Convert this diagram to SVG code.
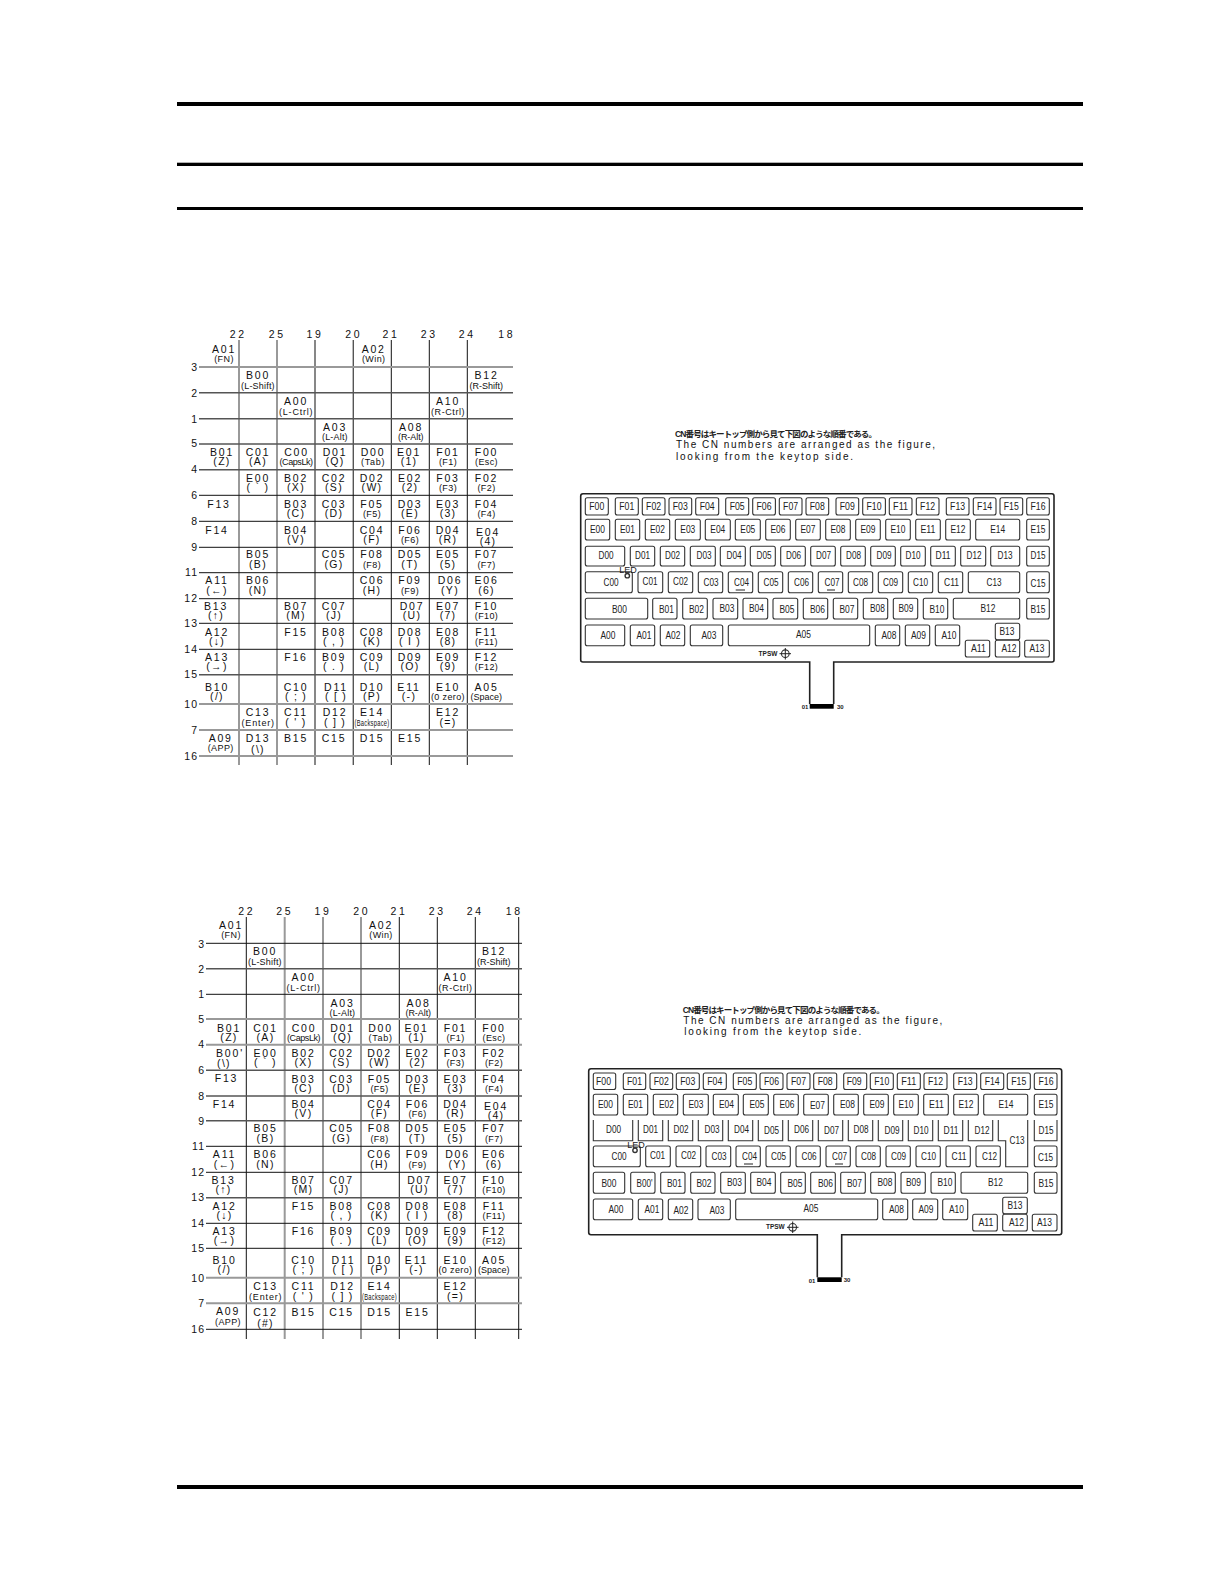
<svg xmlns="http://www.w3.org/2000/svg" width="1224" height="1584" viewBox="0 0 1224 1584">
<style>
text{font-family:"Liberation Sans",Arial,"Noto Sans CJK JP",sans-serif;fill:#111;text-anchor:middle}
.m{font-size:10.5px;letter-spacing:1.8px}
.s{font-size:10.5px;letter-spacing:1.3px}
.f{font-size:9px;letter-spacing:.4px}
.n{font-size:10.5px;letter-spacing:2.6px}
.r{font-size:10.5px;letter-spacing:1px;text-anchor:end}
.cap{font-size:10px;text-anchor:start;fill:#111}
.cj{font-size:8.5px;text-anchor:start;font-weight:bold;fill:#222}
.kb rect,.kb .o{fill:#fff;stroke:#333;stroke-width:1.1}
.kb text{font-size:11.5px;fill:#222}
.kb .t{font-size:6px;font-weight:bold}
.kb .e{font-size:9px}
.kb .frame{fill:none;stroke:#222;stroke-width:1.6}
.g{stroke:#999;stroke-width:2}
.d{stroke:#555;stroke-width:1.4}
.k{stroke:#111;stroke-width:1}
</style>
<rect width="1224" height="1584" fill="#fff"/>
<g id="page-rules" fill="#000">
<rect x="177" y="102" width="906" height="4"/>
<rect x="177" y="162.7" width="906" height="3.3"/>
<rect x="177" y="207" width="906" height="3"/>
<rect x="177" y="1485" width="906" height="4"/>
</g>

<g id="table1-lines">
<path class="g" d="M239 340V765M277 340V765"/>
<path class="d" d="M315 340V765M353.3 340V765"/>
<path class="k" d="M391.3 340V765M429.3 340V765M467.3 340V765"/>
<path class="g" d="M199 367H513M199 704H513M199 730H513M199 756H513"/>
<path class="d" d="M199 392.7H513M199 418.7H513M199 444H513M199 469.7H513M199 674.7H513"/>
<path class="k" d="M199 495.3H513M199 521.3H513M199 547.3H513M199 572.7H513M199 598.7H513M199 623.3H513M199 649.3H513"/>
</g>
<g id="table1-numbers">
<text class="n" x="238.3" y="337.5">22</text><text class="n" x="277.3" y="337.5">25</text><text class="n" x="315" y="337.5">19</text><text class="n" x="353.7" y="337.5">20</text><text class="n" x="391" y="337.5">21</text><text class="n" x="429.3" y="337.5">23</text><text class="n" x="467.3" y="337.5">24</text><text class="n" x="506.7" y="337.5">18</text>
<text class="r" x="198" y="371">3</text><text class="r" x="198" y="397">2</text><text class="r" x="198" y="423">1</text><text class="r" x="198" y="447">5</text><text class="r" x="198" y="473">4</text><text class="r" x="198" y="499">6</text><text class="r" x="198" y="525">8</text><text class="r" x="198" y="551">9</text><text class="r" x="198" y="576">11</text><text class="r" x="198" y="602">12</text><text class="r" x="198" y="627">13</text><text class="r" x="198" y="653">14</text><text class="r" x="198" y="678">15</text><text class="r" x="198" y="708">10</text><text class="r" x="198" y="734">7</text><text class="r" x="198" y="760">16</text>
</g>
<g id="table1-cells">
<text class="m" x="224" y="353">A01</text><text class="f" x="224" y="362">(FN)</text><text class="m" x="373.7" y="353">A02</text><text class="f" x="373.7" y="362">(Win)</text>
<text class="m" x="258" y="379">B00</text><text class="f" x="258" y="389" textLength="34">(L-Shift)</text><text class="m" x="486.5" y="379">B12</text><text class="f" x="486.5" y="389" textLength="34">(R-Shift)</text>
<text class="m" x="296" y="405">A00</text><text class="f" x="296" y="415" textLength="34">(L-Ctrl)</text><text class="m" x="448" y="405">A10</text><text class="f" x="448" y="415" textLength="34">(R-Ctrl)</text>
<text class="m" x="335" y="431">A03</text><text class="f" x="335" y="440" textLength="26">(L-Alt)</text><text class="m" x="411" y="431">A08</text><text class="f" x="411" y="440" textLength="26">(R-Alt)</text>
<text class="m" x="222" y="456">B01</text><text class="s" x="222" y="465">(Z)</text><text class="m" x="258" y="456">C01</text><text class="s" x="258" y="465">(A)</text><text class="m" x="296.5" y="456">C00</text><text class="f" x="296.5" y="465" textLength="34">(CapsLk)</text><text class="m" x="335" y="456">D01</text><text class="s" x="335" y="465">(Q)</text><text class="m" x="373" y="456">D00</text><text class="f" x="373" y="465" textLength="24">(Tab)</text><text class="m" x="409" y="456">E01</text><text class="s" x="409" y="465">(1)</text><text class="m" x="448" y="456">F01</text><text class="f" x="448" y="465">(F1)</text><text class="m" x="486.5" y="456">F00</text><text class="f" x="486.5" y="465">(Esc)</text>
<text class="m" x="258" y="482">E00</text><text class="s" x="258" y="491">( ` )</text><text class="m" x="296" y="482">B02</text><text class="s" x="296" y="491">(X)</text><text class="m" x="334" y="482">C02</text><text class="s" x="334" y="491">(S)</text><text class="m" x="372" y="482">D02</text><text class="s" x="372" y="491">(W)</text><text class="m" x="410" y="482">E02</text><text class="s" x="410" y="491">(2)</text><text class="m" x="448" y="482">F03</text><text class="f" x="448" y="491">(F3)</text><text class="m" x="486.5" y="482">F02</text><text class="f" x="486.5" y="491">(F2)</text>
<text class="m" x="219" y="508">F13</text><text class="m" x="296" y="508">B03</text><text class="s" x="296" y="517">(C)</text><text class="m" x="334" y="508">C03</text><text class="s" x="334" y="517">(D)</text><text class="m" x="372" y="508">F05</text><text class="f" x="372" y="517">(F5)</text><text class="m" x="410" y="508">D03</text><text class="s" x="410" y="517">(E)</text><text class="m" x="448" y="508">E03</text><text class="s" x="448" y="517">(3)</text><text class="m" x="486.5" y="508">F04</text><text class="f" x="486.5" y="517">(F4)</text>
<text class="m" x="217" y="534">F14</text><text class="m" x="296" y="534">B04</text><text class="s" x="296" y="543">(V)</text><text class="m" x="372" y="534">C04</text><text class="s" x="372" y="543">(F)</text><text class="m" x="410" y="534">F06</text><text class="f" x="410" y="543">(F6)</text><text class="m" x="448" y="534">D04</text><text class="s" x="448" y="543">(R)</text><text class="m" x="488" y="536">E04</text><text class="s" x="488" y="545">(4)</text>
<text class="m" x="258" y="558">B05</text><text class="s" x="258" y="568">(B)</text><text class="m" x="334" y="558">C05</text><text class="s" x="334" y="568">(G)</text><text class="m" x="372" y="558">F08</text><text class="f" x="372" y="568">(F8)</text><text class="m" x="410" y="558">D05</text><text class="s" x="410" y="568">(T)</text><text class="m" x="448" y="558">E05</text><text class="s" x="448" y="568">(5)</text><text class="m" x="486.5" y="558">F07</text><text class="f" x="486.5" y="568">(F7)</text>
<text class="m" x="217" y="584">A11</text><text class="s" x="217" y="594">(←)</text><text class="m" x="258" y="584">B06</text><text class="s" x="258" y="594">(N)</text><text class="m" x="372" y="584">C06</text><text class="s" x="372" y="594">(H)</text><text class="m" x="410" y="584">F09</text><text class="f" x="410" y="594">(F9)</text><text class="m" x="450" y="584">D06</text><text class="s" x="450" y="594">(Y)</text><text class="m" x="486.5" y="584">E06</text><text class="s" x="486.5" y="594">(6)</text>
<text class="m" x="216" y="610">B13</text><text class="s" x="216" y="619">(↑)</text><text class="m" x="296" y="610">B07</text><text class="s" x="296" y="619">(M)</text><text class="m" x="334" y="610">C07</text><text class="s" x="334" y="619">(J)</text><text class="m" x="412" y="610">D07</text><text class="s" x="412" y="619">(U)</text><text class="m" x="448" y="610">E07</text><text class="s" x="448" y="619">(7)</text><text class="m" x="486.5" y="610">F10</text><text class="f" x="486.5" y="619">(F10)</text>
<text class="m" x="217" y="636">A12</text><text class="s" x="217" y="645">(↓)</text><text class="m" x="296" y="636">F15</text><text class="m" x="334" y="636">B08</text><text class="s" x="334" y="645">( , )</text><text class="m" x="372" y="636">C08</text><text class="s" x="372" y="645">(K)</text><text class="m" x="410" y="636">D08</text><text class="s" x="410" y="645">( I )</text><text class="m" x="448" y="636">E08</text><text class="s" x="448" y="645">(8)</text><text class="m" x="486.5" y="636">F11</text><text class="f" x="486.5" y="645">(F11)</text>
<text class="m" x="217" y="661">A13</text><text class="s" x="217" y="670">(→)</text><text class="m" x="296" y="661">F16</text><text class="m" x="334" y="661">B09</text><text class="s" x="334" y="670">( . )</text><text class="m" x="372" y="661">C09</text><text class="s" x="372" y="670">(L)</text><text class="m" x="410" y="661">D09</text><text class="s" x="410" y="670">(O)</text><text class="m" x="448" y="661">E09</text><text class="s" x="448" y="670">(9)</text><text class="m" x="486.5" y="661">F12</text><text class="f" x="486.5" y="670">(F12)</text>
<text class="m" x="217" y="691">B10</text><text class="s" x="217" y="700">(/)</text><text class="m" x="296" y="691">C10</text><text class="s" x="296" y="700">( ; )</text><text class="m" x="336" y="691">D11</text><text class="s" x="336" y="700">( [ )</text><text class="m" x="372" y="691">D10</text><text class="s" x="372" y="700">(P)</text><text class="m" x="409" y="691">E11</text><text class="s" x="409" y="700">(-)</text><text class="m" x="448" y="691">E10</text><text class="f" x="448" y="700" textLength="34">(0 zero)</text><text class="m" x="486.5" y="691">A05</text><text class="f" x="486.5" y="700" textLength="32">(Space)</text>
<text class="m" x="258" y="716">C13</text><text class="f" x="258" y="726" textLength="33">(Enter)</text><text class="m" x="296" y="716">C11</text><text class="s" x="296" y="726">( ' )</text><text class="m" x="335" y="716">D12</text><text class="s" x="335" y="726">( ] )</text><text class="m" x="372" y="716">E14</text><text class="f" x="372" y="726" textLength="35" lengthAdjust="spacingAndGlyphs">(Backspace)</text><text class="m" x="448" y="716">E12</text><text class="s" x="448" y="726">(=)</text>
<text class="m" x="220.7" y="742">A09</text><text class="f" x="220.7" y="751">(APP)</text><text class="m" x="258" y="742">D13</text><text class="s" x="258" y="753">(\)</text><text class="m" x="296" y="742">B15</text><text class="m" x="334" y="742">C15</text><text class="m" x="372" y="742">D15</text><text class="m" x="410" y="742">E15</text>
</g>

<g id="table2-lines">
<path class="k" d="M246.3 917V1339"/>
<path class="g" d="M284.7 917V1339M323 917V1339M361 917V1339"/>
<path class="k" d="M399.3 917V1339M437.3 917V1339M475.3 917V1339M518.7 917V1339"/>
<path class="k" d="M206 943.3H522"/>
<path class="d" d="M206 968.7H522"/>
<path class="k" d="M206 994.3H522"/>
<path class="g" d="M206 1019H522M206 1044.7H522M206 1277.7H522M206 1303.3H522"/>
<path class="d" d="M206 1070.3H522M206 1096H522M206 1120.7H522M206 1197.7H522"/>
<path class="k" d="M206 1146.3H522M206 1172.3H522M206 1223.3H522M206 1248.3H522M206 1329.3H522"/>
</g>
<g id="table2-numbers">
<text class="n" x="246.7" y="914.5">22</text><text class="n" x="284.7" y="914.5">25</text><text class="n" x="323" y="914.5">19</text><text class="n" x="361.7" y="914.5">20</text><text class="n" x="399" y="914.5">21</text><text class="n" x="437.3" y="914.5">23</text><text class="n" x="475.3" y="914.5">24</text><text class="n" x="514.3" y="914.5">18</text>
<text class="r" x="205" y="948">3</text><text class="r" x="205" y="973">2</text><text class="r" x="205" y="998">1</text><text class="r" x="205" y="1023">5</text><text class="r" x="205" y="1048">4</text><text class="r" x="205" y="1074">6</text><text class="r" x="205" y="1100">8</text><text class="r" x="205" y="1125">9</text><text class="r" x="205" y="1150">11</text><text class="r" x="205" y="1176">12</text><text class="r" x="205" y="1201">13</text><text class="r" x="205" y="1227">14</text><text class="r" x="205" y="1252">15</text><text class="r" x="205" y="1282">10</text><text class="r" x="205" y="1307">7</text><text class="r" x="205" y="1333">16</text>
</g>
<g id="table2-cells">
<text class="m" x="231" y="929">A01</text><text class="f" x="231" y="938">(FN)</text><text class="m" x="381" y="929">A02</text><text class="f" x="381" y="938">(Win)</text>
<text class="m" x="265" y="955">B00</text><text class="f" x="265" y="965" textLength="34">(L-Shift)</text><text class="m" x="494" y="955">B12</text><text class="f" x="494" y="965" textLength="34">(R-Shift)</text>
<text class="m" x="303.5" y="981">A00</text><text class="f" x="303.5" y="991" textLength="34">(L-Ctrl)</text><text class="m" x="455.5" y="981">A10</text><text class="f" x="455.5" y="991" textLength="34">(R-Ctrl)</text>
<text class="m" x="342.5" y="1007">A03</text><text class="f" x="342.5" y="1016" textLength="26">(L-Alt)</text><text class="m" x="418.5" y="1007">A08</text><text class="f" x="418.5" y="1016" textLength="26">(R-Alt)</text>
<text class="m" x="229" y="1032">B01</text><text class="s" x="229" y="1041">(Z)</text><text class="m" x="265.5" y="1032">C01</text><text class="s" x="265.5" y="1041">(A)</text><text class="m" x="304" y="1032">C00</text><text class="f" x="304" y="1041" textLength="34">(CapsLk)</text><text class="m" x="342.5" y="1032">D01</text><text class="s" x="342.5" y="1041">(Q)</text><text class="m" x="380.5" y="1032">D00</text><text class="f" x="380.5" y="1041" textLength="24">(Tab)</text><text class="m" x="416.5" y="1032">E01</text><text class="s" x="416.5" y="1041">(1)</text><text class="m" x="455.5" y="1032">F01</text><text class="f" x="455.5" y="1041">(F1)</text><text class="m" x="494" y="1032">F00</text><text class="f" x="494" y="1041">(Esc)</text>
<text class="m" x="230" y="1057">B00'</text><text class="s" x="224" y="1067">(\)</text><text class="m" x="265.5" y="1057">E00</text><text class="s" x="265.5" y="1066">( ` )</text><text class="m" x="303.5" y="1057">B02</text><text class="s" x="303.5" y="1066">(X)</text><text class="m" x="341.5" y="1057">C02</text><text class="s" x="341.5" y="1066">(S)</text><text class="m" x="379.5" y="1057">D02</text><text class="s" x="379.5" y="1066">(W)</text><text class="m" x="417.5" y="1057">E02</text><text class="s" x="417.5" y="1066">(2)</text><text class="m" x="455.5" y="1057">F03</text><text class="f" x="455.5" y="1066">(F3)</text><text class="m" x="494" y="1057">F02</text><text class="f" x="494" y="1066">(F2)</text>
<text class="m" x="226.5" y="1082">F13</text><text class="m" x="303.5" y="1083">B03</text><text class="s" x="303.5" y="1092">(C)</text><text class="m" x="341.5" y="1083">C03</text><text class="s" x="341.5" y="1092">(D)</text><text class="m" x="379.5" y="1083">F05</text><text class="f" x="379.5" y="1092">(F5)</text><text class="m" x="417.5" y="1083">D03</text><text class="s" x="417.5" y="1092">(E)</text><text class="m" x="455.5" y="1083">E03</text><text class="s" x="455.5" y="1092">(3)</text><text class="m" x="494" y="1083">F04</text><text class="f" x="494" y="1092">(F4)</text>
<text class="m" x="224.5" y="1108">F14</text><text class="m" x="303.5" y="1108">B04</text><text class="s" x="303.5" y="1117">(V)</text><text class="m" x="379.5" y="1108">C04</text><text class="s" x="379.5" y="1117">(F)</text><text class="m" x="417.5" y="1108">F06</text><text class="f" x="417.5" y="1117">(F6)</text><text class="m" x="455.5" y="1108">D04</text><text class="s" x="455.5" y="1117">(R)</text><text class="m" x="496" y="1110">E04</text><text class="s" x="496" y="1119">(4)</text>
<text class="m" x="265.5" y="1132">B05</text><text class="s" x="265.5" y="1142">(B)</text><text class="m" x="341.5" y="1132">C05</text><text class="s" x="341.5" y="1142">(G)</text><text class="m" x="379.5" y="1132">F08</text><text class="f" x="379.5" y="1142">(F8)</text><text class="m" x="417.5" y="1132">D05</text><text class="s" x="417.5" y="1142">(T)</text><text class="m" x="455.5" y="1132">E05</text><text class="s" x="455.5" y="1142">(5)</text><text class="m" x="494" y="1132">F07</text><text class="f" x="494" y="1142">(F7)</text>
<text class="m" x="224.5" y="1158">A11</text><text class="s" x="224.5" y="1168">(←)</text><text class="m" x="265.5" y="1158">B06</text><text class="s" x="265.5" y="1168">(N)</text><text class="m" x="379.5" y="1158">C06</text><text class="s" x="379.5" y="1168">(H)</text><text class="m" x="417.5" y="1158">F09</text><text class="f" x="417.5" y="1168">(F9)</text><text class="m" x="457.5" y="1158">D06</text><text class="s" x="457.5" y="1168">(Y)</text><text class="m" x="494" y="1158">E06</text><text class="s" x="494" y="1168">(6)</text>
<text class="m" x="223.5" y="1184">B13</text><text class="s" x="223.5" y="1193">(↑)</text><text class="m" x="303.5" y="1184">B07</text><text class="s" x="303.5" y="1193">(M)</text><text class="m" x="341.5" y="1184">C07</text><text class="s" x="341.5" y="1193">(J)</text><text class="m" x="419.5" y="1184">D07</text><text class="s" x="419.5" y="1193">(U)</text><text class="m" x="455.5" y="1184">E07</text><text class="s" x="455.5" y="1193">(7)</text><text class="m" x="494" y="1184">F10</text><text class="f" x="494" y="1193">(F10)</text>
<text class="m" x="224.5" y="1210">A12</text><text class="s" x="224.5" y="1219">(↓)</text><text class="m" x="303.5" y="1210">F15</text><text class="m" x="341.5" y="1210">B08</text><text class="s" x="341.5" y="1219">( , )</text><text class="m" x="379.5" y="1210">C08</text><text class="s" x="379.5" y="1219">(K)</text><text class="m" x="417.5" y="1210">D08</text><text class="s" x="417.5" y="1219">( I )</text><text class="m" x="455.5" y="1210">E08</text><text class="s" x="455.5" y="1219">(8)</text><text class="m" x="494" y="1210">F11</text><text class="f" x="494" y="1219">(F11)</text>
<text class="m" x="224.5" y="1235">A13</text><text class="s" x="224.5" y="1244">(→)</text><text class="m" x="303.5" y="1235">F16</text><text class="m" x="341.5" y="1235">B09</text><text class="s" x="341.5" y="1244">( . )</text><text class="m" x="379.5" y="1235">C09</text><text class="s" x="379.5" y="1244">(L)</text><text class="m" x="417.5" y="1235">D09</text><text class="s" x="417.5" y="1244">(O)</text><text class="m" x="455.5" y="1235">E09</text><text class="s" x="455.5" y="1244">(9)</text><text class="m" x="494" y="1235">F12</text><text class="f" x="494" y="1244">(F12)</text>
<text class="m" x="224.5" y="1264">B10</text><text class="s" x="224.5" y="1273">(/)</text><text class="m" x="303.5" y="1264">C10</text><text class="s" x="303.5" y="1273">( ; )</text><text class="m" x="343.5" y="1264">D11</text><text class="s" x="343.5" y="1273">( [ )</text><text class="m" x="379.5" y="1264">D10</text><text class="s" x="379.5" y="1273">(P)</text><text class="m" x="416.5" y="1264">E11</text><text class="s" x="416.5" y="1273">(-)</text><text class="m" x="455.5" y="1264">E10</text><text class="f" x="455.5" y="1273" textLength="34">(0 zero)</text><text class="m" x="494" y="1264">A05</text><text class="f" x="494" y="1273" textLength="32">(Space)</text>
<text class="m" x="265.5" y="1290">C13</text><text class="f" x="265.5" y="1300" textLength="33">(Enter)</text><text class="m" x="303.5" y="1290">C11</text><text class="s" x="303.5" y="1300">( ' )</text><text class="m" x="342.5" y="1290">D12</text><text class="s" x="342.5" y="1300">( ] )</text><text class="m" x="379.5" y="1290">E14</text><text class="f" x="379.5" y="1300" textLength="35" lengthAdjust="spacingAndGlyphs">(Backspace)</text><text class="m" x="455.5" y="1290">E12</text><text class="s" x="455.5" y="1300">(=)</text>
<text class="m" x="228" y="1315">A09</text><text class="f" x="228" y="1325">(APP)</text><text class="m" x="265.5" y="1316">C12</text><text class="s" x="265.5" y="1327">(#)</text><text class="m" x="303.5" y="1316">B15</text><text class="m" x="341.5" y="1316">C15</text><text class="m" x="379.5" y="1316">D15</text><text class="m" x="417.5" y="1316">E15</text>
</g>

<g id="caption1">
<text class="cj" x="675" y="437" textLength="202" lengthAdjust="spacing">CN番号はキートップ側から見て下図のような順番である。</text>
<text class="cap" x="676" y="448" textLength="259">The CN numbers are arranged as the figure,</text>
<text class="cap" x="676" y="459.5" textLength="177">looking from the keytop side.</text>
</g>
<g id="keyboard1" class="kb">
<path class="frame" d="M809.7 704V662H583Q580.7 662 580.7 660V496Q580.7 493.7 583 493.7H1052Q1054 493.7 1054 496V660Q1054 662 1052 662H833.7V704"/>
<rect x="809.7" y="704" width="24" height="4.7" style="fill:#000;stroke:none"/>
<text class="t" x="805" y="709">01</text><text class="t" x="840.3" y="708.5">30</text>
<g id="k1-F00"><rect x="585.3" y="497.7" width="23" height="17.3" rx="2"/><text x="596.8" y="510" textLength="15" lengthAdjust="spacingAndGlyphs">F00</text></g>
<g id="k1-F01"><rect x="615.3" y="497.7" width="23" height="17.3" rx="2"/><text x="626.8" y="510" textLength="15" lengthAdjust="spacingAndGlyphs">F01</text></g>
<g id="k1-F02"><rect x="642.3" y="497.7" width="22.7" height="17.3" rx="2"/><text x="653.6" y="510" textLength="15" lengthAdjust="spacingAndGlyphs">F02</text></g>
<g id="k1-F03"><rect x="669" y="497.7" width="22.7" height="17.3" rx="2"/><text x="680.3" y="510" textLength="15" lengthAdjust="spacingAndGlyphs">F03</text></g>
<g id="k1-F04"><rect x="695.7" y="497.7" width="23" height="17.3" rx="2"/><text x="707.2" y="510" textLength="15" lengthAdjust="spacingAndGlyphs">F04</text></g>
<g id="k1-F05"><rect x="725.7" y="497.7" width="23" height="17.3" rx="2"/><text x="737.2" y="510" textLength="15" lengthAdjust="spacingAndGlyphs">F05</text></g>
<g id="k1-F06"><rect x="752.7" y="497.7" width="22.7" height="17.3" rx="2"/><text x="764" y="510" textLength="15" lengthAdjust="spacingAndGlyphs">F06</text></g>
<g id="k1-F07"><rect x="779.3" y="497.7" width="22.7" height="17.3" rx="2"/><text x="790.6" y="510" textLength="15" lengthAdjust="spacingAndGlyphs">F07</text></g>
<g id="k1-F08"><rect x="806" y="497.7" width="22.7" height="17.3" rx="2"/><text x="817.3" y="510" textLength="15" lengthAdjust="spacingAndGlyphs">F08</text></g>
<g id="k1-F09"><rect x="836" y="497.7" width="22.7" height="17.3" rx="2"/><text x="847.3" y="510" textLength="15" lengthAdjust="spacingAndGlyphs">F09</text></g>
<g id="k1-F10"><rect x="862.7" y="497.7" width="22.7" height="17.3" rx="2"/><text x="874" y="510" textLength="15" lengthAdjust="spacingAndGlyphs">F10</text></g>
<g id="k1-F11"><rect x="889.3" y="497.7" width="22.7" height="17.3" rx="2"/><text x="900.6" y="510" textLength="15" lengthAdjust="spacingAndGlyphs">F11</text></g>
<g id="k1-F12"><rect x="916.3" y="497.7" width="22.7" height="17.3" rx="2"/><text x="927.6" y="510" textLength="15" lengthAdjust="spacingAndGlyphs">F12</text></g>
<g id="k1-F13"><rect x="946.3" y="497.7" width="22.7" height="17.3" rx="2"/><text x="957.6" y="510" textLength="15" lengthAdjust="spacingAndGlyphs">F13</text></g>
<g id="k1-F14"><rect x="973.3" y="497.7" width="22.7" height="17.3" rx="2"/><text x="984.6" y="510" textLength="15" lengthAdjust="spacingAndGlyphs">F14</text></g>
<g id="k1-F15"><rect x="1000" y="497.7" width="22.7" height="17.3" rx="2"/><text x="1011.3" y="510" textLength="15" lengthAdjust="spacingAndGlyphs">F15</text></g>
<g id="k1-F16"><rect x="1026.7" y="497.7" width="22.6" height="17.3" rx="2"/><text x="1038" y="510" textLength="15" lengthAdjust="spacingAndGlyphs">F16</text></g>
<g id="k1-E00"><rect x="585.3" y="519.3" width="24.4" height="20.7" rx="2"/><text x="597.5" y="533" textLength="15" lengthAdjust="spacingAndGlyphs">E00</text></g>
<g id="k1-E01"><rect x="615.3" y="519.3" width="24.4" height="20.7" rx="2"/><text x="627.5" y="533" textLength="15" lengthAdjust="spacingAndGlyphs">E01</text></g>
<g id="k1-E02"><rect x="645.3" y="519.3" width="24.4" height="20.7" rx="2"/><text x="657.5" y="533" textLength="15" lengthAdjust="spacingAndGlyphs">E02</text></g>
<g id="k1-E03"><rect x="675.3" y="519.3" width="25" height="20.7" rx="2"/><text x="687.8" y="533" textLength="15" lengthAdjust="spacingAndGlyphs">E03</text></g>
<g id="k1-E04"><rect x="705.3" y="519.3" width="25" height="20.7" rx="2"/><text x="717.8" y="533" textLength="15" lengthAdjust="spacingAndGlyphs">E04</text></g>
<g id="k1-E05"><rect x="735.3" y="519.3" width="25" height="20.7" rx="2"/><text x="747.8" y="533" textLength="15" lengthAdjust="spacingAndGlyphs">E05</text></g>
<g id="k1-E06"><rect x="765.7" y="519.3" width="24.6" height="20.7" rx="2"/><text x="778" y="533" textLength="15" lengthAdjust="spacingAndGlyphs">E06</text></g>
<g id="k1-E07"><rect x="795.7" y="519.3" width="24.6" height="20.7" rx="2"/><text x="808" y="533" textLength="15" lengthAdjust="spacingAndGlyphs">E07</text></g>
<g id="k1-E08"><rect x="825.7" y="519.3" width="24.6" height="20.7" rx="2"/><text x="838" y="533" textLength="15" lengthAdjust="spacingAndGlyphs">E08</text></g>
<g id="k1-E09"><rect x="855.7" y="519.3" width="24.6" height="20.7" rx="2"/><text x="868" y="533" textLength="15" lengthAdjust="spacingAndGlyphs">E09</text></g>
<g id="k1-E10"><rect x="885.7" y="519.3" width="24.6" height="20.7" rx="2"/><text x="898" y="533" textLength="15" lengthAdjust="spacingAndGlyphs">E10</text></g>
<g id="k1-E11"><rect x="915.7" y="519.3" width="24.6" height="20.7" rx="2"/><text x="928" y="533" textLength="15" lengthAdjust="spacingAndGlyphs">E11</text></g>
<g id="k1-E12"><rect x="945.7" y="519.3" width="24.6" height="20.7" rx="2"/><text x="958" y="533" textLength="15" lengthAdjust="spacingAndGlyphs">E12</text></g>
<g id="k1-E14"><rect x="975.7" y="519.3" width="44" height="20.7" rx="2"/><text x="997.7" y="533" textLength="15" lengthAdjust="spacingAndGlyphs">E14</text></g>
<g id="k1-E15"><rect x="1026.7" y="519.3" width="22.6" height="20.7" rx="2"/><text x="1038" y="533" textLength="15" lengthAdjust="spacingAndGlyphs">E15</text></g>
<g id="k1-D00"><rect x="585.3" y="546.3" width="39.4" height="19.7" rx="2"/><text x="606" y="559" textLength="15" lengthAdjust="spacingAndGlyphs">D00</text></g>
<g id="k1-D01"><rect x="630.3" y="546.3" width="24.4" height="19.7" rx="2"/><text x="642.5" y="559" textLength="15" lengthAdjust="spacingAndGlyphs">D01</text></g>
<g id="k1-D02"><rect x="660.3" y="546.3" width="24.4" height="19.7" rx="2"/><text x="672.5" y="559" textLength="15" lengthAdjust="spacingAndGlyphs">D02</text></g>
<g id="k1-D03"><rect x="690.3" y="546.3" width="25" height="19.7" rx="2"/><text x="704" y="559" textLength="15" lengthAdjust="spacingAndGlyphs">D03</text></g>
<g id="k1-D04"><rect x="720.3" y="546.3" width="25" height="19.7" rx="2"/><text x="734" y="559" textLength="15" lengthAdjust="spacingAndGlyphs">D04</text></g>
<g id="k1-D05"><rect x="750.3" y="546.3" width="25" height="19.7" rx="2"/><text x="764" y="559" textLength="15" lengthAdjust="spacingAndGlyphs">D05</text></g>
<g id="k1-D06"><rect x="780.7" y="546.3" width="24.6" height="19.7" rx="2"/><text x="793.5" y="559" textLength="15" lengthAdjust="spacingAndGlyphs">D06</text></g>
<g id="k1-D07"><rect x="810.7" y="546.3" width="24.6" height="19.7" rx="2"/><text x="823.5" y="559" textLength="15" lengthAdjust="spacingAndGlyphs">D07</text></g>
<g id="k1-D08"><rect x="840.7" y="546.3" width="24.6" height="19.7" rx="2"/><text x="853.5" y="559" textLength="15" lengthAdjust="spacingAndGlyphs">D08</text></g>
<g id="k1-D09"><rect x="870.7" y="546.3" width="24.6" height="19.7" rx="2"/><text x="884" y="559" textLength="15" lengthAdjust="spacingAndGlyphs">D09</text></g>
<g id="k1-D10"><rect x="900.7" y="546.3" width="24.6" height="19.7" rx="2"/><text x="913" y="559" textLength="15" lengthAdjust="spacingAndGlyphs">D10</text></g>
<g id="k1-D11"><rect x="930.7" y="546.3" width="24.6" height="19.7" rx="2"/><text x="943" y="559" textLength="15" lengthAdjust="spacingAndGlyphs">D11</text></g>
<g id="k1-D12"><rect x="960.7" y="546.3" width="25" height="19.7" rx="2"/><text x="974" y="559" textLength="15" lengthAdjust="spacingAndGlyphs">D12</text></g>
<g id="k1-D13"><rect x="990.7" y="546.3" width="29" height="19.7" rx="2"/><text x="1005" y="559" textLength="15" lengthAdjust="spacingAndGlyphs">D13</text></g>
<g id="k1-D15"><rect x="1026.7" y="546.3" width="22.6" height="19.7" rx="2"/><text x="1038" y="559" textLength="15" lengthAdjust="spacingAndGlyphs">D15</text></g>
<g id="k1-C00"><rect x="585.3" y="571.7" width="47" height="21" rx="2"/><text x="611" y="585.5" textLength="15" lengthAdjust="spacingAndGlyphs">C00</text></g>
<g id="k1-C01"><rect x="638" y="571.7" width="24.7" height="21" rx="2"/><text x="650" y="585" textLength="15" lengthAdjust="spacingAndGlyphs">C01</text></g>
<g id="k1-C02"><rect x="668.3" y="571.7" width="24.4" height="21" rx="2"/><text x="680.5" y="585" textLength="15" lengthAdjust="spacingAndGlyphs">C02</text></g>
<g id="k1-C03"><rect x="698.3" y="571.7" width="24.4" height="21" rx="2"/><text x="711" y="585.5" textLength="15" lengthAdjust="spacingAndGlyphs">C03</text></g>
<g id="k1-C04"><rect x="728.3" y="571.7" width="24.4" height="21" rx="2"/><text x="741.5" y="585.5" textLength="15" lengthAdjust="spacingAndGlyphs">C04</text></g>
<g id="k1-C05"><rect x="758.3" y="571.7" width="24.4" height="21" rx="2"/><text x="771" y="585.5" textLength="15" lengthAdjust="spacingAndGlyphs">C05</text></g>
<g id="k1-C06"><rect x="788.3" y="571.7" width="24.4" height="21" rx="2"/><text x="801.5" y="585.5" textLength="15" lengthAdjust="spacingAndGlyphs">C06</text></g>
<g id="k1-C07"><rect x="818.3" y="571.7" width="24.4" height="21" rx="2"/><text x="832" y="585.5" textLength="15" lengthAdjust="spacingAndGlyphs">C07</text></g>
<g id="k1-C08"><rect x="848.3" y="571.7" width="24.4" height="21" rx="2"/><text x="860.5" y="585.5" textLength="15" lengthAdjust="spacingAndGlyphs">C08</text></g>
<g id="k1-C09"><rect x="878.3" y="571.7" width="24.4" height="21" rx="2"/><text x="890.5" y="585.5" textLength="15" lengthAdjust="spacingAndGlyphs">C09</text></g>
<g id="k1-C10"><rect x="908.3" y="571.7" width="24.4" height="21" rx="2"/><text x="920.5" y="585.5" textLength="15" lengthAdjust="spacingAndGlyphs">C10</text></g>
<g id="k1-C11"><rect x="938.3" y="571.7" width="24.4" height="21" rx="2"/><text x="951.5" y="585.5" textLength="15" lengthAdjust="spacingAndGlyphs">C11</text></g>
<g id="k1-C13"><rect x="968.3" y="571.7" width="51.4" height="21" rx="2"/><text x="994" y="585.5" textLength="15" lengthAdjust="spacingAndGlyphs">C13</text></g>
<g id="k1-C15"><rect x="1026.7" y="571.7" width="22.6" height="21" rx="2"/><text x="1038" y="586.5" textLength="15" lengthAdjust="spacingAndGlyphs">C15</text></g>
<g id="k1-B00"><rect x="585.3" y="598.3" width="62.4" height="20.7" rx="2"/><text x="619.5" y="612.5" textLength="15" lengthAdjust="spacingAndGlyphs">B00</text></g>
<g id="k1-B01"><rect x="652.7" y="598.3" width="24.3" height="20.7" rx="2"/><text x="666.5" y="612.5" textLength="15" lengthAdjust="spacingAndGlyphs">B01</text></g>
<g id="k1-B02"><rect x="682.7" y="598.3" width="24.6" height="20.7" rx="2"/><text x="696.5" y="612.5" textLength="15" lengthAdjust="spacingAndGlyphs">B02</text></g>
<g id="k1-B03"><rect x="713" y="598.3" width="24.7" height="20.7" rx="2"/><text x="727" y="612" textLength="15" lengthAdjust="spacingAndGlyphs">B03</text></g>
<g id="k1-B04"><rect x="743" y="598.3" width="24.7" height="20.7" rx="2"/><text x="756.5" y="612" textLength="15" lengthAdjust="spacingAndGlyphs">B04</text></g>
<g id="k1-B05"><rect x="773" y="598.3" width="24.7" height="20.7" rx="2"/><text x="787" y="612.5" textLength="15" lengthAdjust="spacingAndGlyphs">B05</text></g>
<g id="k1-B06"><rect x="803.3" y="598.3" width="24.4" height="20.7" rx="2"/><text x="817.5" y="612.5" textLength="15" lengthAdjust="spacingAndGlyphs">B06</text></g>
<g id="k1-B07"><rect x="833.3" y="598.3" width="24.4" height="20.7" rx="2"/><text x="847" y="612.5" textLength="15" lengthAdjust="spacingAndGlyphs">B07</text></g>
<g id="k1-B08"><rect x="863.3" y="598.3" width="24.4" height="20.7" rx="2"/><text x="877.5" y="612" textLength="15" lengthAdjust="spacingAndGlyphs">B08</text></g>
<g id="k1-B09"><rect x="893.3" y="598.3" width="24.4" height="20.7" rx="2"/><text x="906" y="612" textLength="15" lengthAdjust="spacingAndGlyphs">B09</text></g>
<g id="k1-B10"><rect x="923.3" y="598.3" width="24.4" height="20.7" rx="2"/><text x="937" y="612.5" textLength="15" lengthAdjust="spacingAndGlyphs">B10</text></g>
<g id="k1-B12"><rect x="953.3" y="598.3" width="66.4" height="20.7" rx="2"/><text x="988" y="612" textLength="15" lengthAdjust="spacingAndGlyphs">B12</text></g>
<g id="k1-B15"><rect x="1026.7" y="598.3" width="22.6" height="20.7" rx="2"/><text x="1038" y="612.5" textLength="15" lengthAdjust="spacingAndGlyphs">B15</text></g>
<g id="k1-A00"><rect x="585.3" y="625" width="39.4" height="20.7" rx="2"/><text x="608" y="639" textLength="15" lengthAdjust="spacingAndGlyphs">A00</text></g>
<g id="k1-A01"><rect x="630.3" y="625" width="24.4" height="20.7" rx="2"/><text x="644" y="639" textLength="15" lengthAdjust="spacingAndGlyphs">A01</text></g>
<g id="k1-A02"><rect x="660.3" y="625" width="24.4" height="20.7" rx="2"/><text x="673" y="639" textLength="15" lengthAdjust="spacingAndGlyphs">A02</text></g>
<g id="k1-A03"><rect x="690.3" y="625" width="32.4" height="20.7" rx="2"/><text x="709" y="639" textLength="15" lengthAdjust="spacingAndGlyphs">A03</text></g>
<g id="k1-A05"><rect x="728.3" y="625" width="141.4" height="20.7" rx="2"/><text x="803.5" y="638" textLength="15" lengthAdjust="spacingAndGlyphs">A05</text></g>
<g id="k1-A08"><rect x="875.3" y="625" width="24.4" height="20.7" rx="2"/><text x="889" y="638.5" textLength="15" lengthAdjust="spacingAndGlyphs">A08</text></g>
<g id="k1-A09"><rect x="905.3" y="625" width="24.4" height="20.7" rx="2"/><text x="918.5" y="639" textLength="15" lengthAdjust="spacingAndGlyphs">A09</text></g>
<g id="k1-A10"><rect x="935.3" y="625" width="24.4" height="20.7" rx="2"/><text x="949" y="639" textLength="15" lengthAdjust="spacingAndGlyphs">A10</text></g>
<g id="k1-B13"><rect x="995.3" y="623.3" width="24.4" height="16.4" rx="2"/><text x="1007" y="635" textLength="15" lengthAdjust="spacingAndGlyphs">B13</text></g>
<g id="k1-A11"><rect x="965.3" y="640.3" width="24.4" height="16.7" rx="2"/><text x="978.5" y="652" textLength="15" lengthAdjust="spacingAndGlyphs">A11</text></g>
<g id="k1-A12"><rect x="995.3" y="640.3" width="24.4" height="16.7" rx="2"/><text x="1009" y="652" textLength="15" lengthAdjust="spacingAndGlyphs">A12</text></g>
<g id="k1-A13"><rect x="1024.7" y="640.3" width="24.6" height="16.7" rx="2"/><text x="1037" y="652" textLength="15" lengthAdjust="spacingAndGlyphs">A13</text></g>
<g id="k1-marks">
<path d="M735.7 590H745M827 590H835" stroke="#222" stroke-width="1.2"/>
<text class="e" x="628" y="572.5">LED</text><circle class="o" cx="627.3" cy="575.7" r="2.2" style="fill:none;stroke-width:1.4"/>
<text class="t" x="768" y="655.5" style="font-size:6.5px">TPSW</text>
<circle class="o" cx="785.3" cy="653.7" r="3.8" style="fill:none"/><path d="M779.5 653.7H791M785.3 648V659.5" stroke="#222" stroke-width="1"/>
</g>
</g>

<g id="caption2">
<text class="cj" x="682.7" y="1012.5" textLength="202" lengthAdjust="spacing">CN番号はキートップ側から見て下図のような順番である。</text>
<text class="cap" x="683.3" y="1023.5" textLength="259">The CN numbers are arranged as the figure,</text>
<text class="cap" x="684.3" y="1035" textLength="177">looking from the keytop side.</text>
</g>
<g id="keyboard2" class="kb">
<path class="frame" d="M817.3 1277.3V1234.7H591Q588.7 1234.7 588.7 1232.5V1071Q588.7 1068.7 591 1068.7H1059.5Q1061.7 1068.7 1061.7 1071V1232.5Q1061.7 1234.7 1059.5 1234.7H841.7V1277.3"/>
<rect x="817.3" y="1277.3" width="24.4" height="4.7" style="fill:#000;stroke:none"/>
<text class="t" x="812" y="1283">01</text><text class="t" x="847" y="1282">30</text>
<g id="k2-F00"><rect x="593.3" y="1073" width="22.4" height="16.5" rx="2"/><text x="603.5" y="1085" textLength="15" lengthAdjust="spacingAndGlyphs">F00</text></g>
<g id="k2-F01"><rect x="623.3" y="1073" width="22.4" height="16.5" rx="2"/><text x="634.5" y="1085" textLength="15" lengthAdjust="spacingAndGlyphs">F01</text></g>
<g id="k2-F02"><rect x="650" y="1073" width="22.7" height="16.5" rx="2"/><text x="661.3" y="1085" textLength="15" lengthAdjust="spacingAndGlyphs">F02</text></g>
<g id="k2-F03"><rect x="676.3" y="1073" width="23" height="16.5" rx="2"/><text x="687.8" y="1085" textLength="15" lengthAdjust="spacingAndGlyphs">F03</text></g>
<g id="k2-F04"><rect x="703.3" y="1073" width="23" height="16.5" rx="2"/><text x="714.8" y="1085" textLength="15" lengthAdjust="spacingAndGlyphs">F04</text></g>
<g id="k2-F05"><rect x="733.3" y="1073" width="23" height="16.5" rx="2"/><text x="744.8" y="1085" textLength="15" lengthAdjust="spacingAndGlyphs">F05</text></g>
<g id="k2-F06"><rect x="760" y="1073" width="23" height="16.5" rx="2"/><text x="771.5" y="1085" textLength="15" lengthAdjust="spacingAndGlyphs">F06</text></g>
<g id="k2-F07"><rect x="787" y="1073" width="23" height="16.5" rx="2"/><text x="798.5" y="1085" textLength="15" lengthAdjust="spacingAndGlyphs">F07</text></g>
<g id="k2-F08"><rect x="813.7" y="1073" width="23" height="16.5" rx="2"/><text x="825.2" y="1085" textLength="15" lengthAdjust="spacingAndGlyphs">F08</text></g>
<g id="k2-F09"><rect x="843.7" y="1073" width="23" height="16.5" rx="2"/><text x="854.2" y="1085" textLength="15" lengthAdjust="spacingAndGlyphs">F09</text></g>
<g id="k2-F10"><rect x="870.3" y="1073" width="23" height="16.5" rx="2"/><text x="881.8" y="1085" textLength="15" lengthAdjust="spacingAndGlyphs">F10</text></g>
<g id="k2-F11"><rect x="897.3" y="1073" width="23" height="16.5" rx="2"/><text x="908.8" y="1085" textLength="15" lengthAdjust="spacingAndGlyphs">F11</text></g>
<g id="k2-F12"><rect x="924" y="1073" width="23" height="16.5" rx="2"/><text x="935.5" y="1085" textLength="15" lengthAdjust="spacingAndGlyphs">F12</text></g>
<g id="k2-F13"><rect x="953.7" y="1073" width="23" height="16.5" rx="2"/><text x="965.2" y="1085" textLength="15" lengthAdjust="spacingAndGlyphs">F13</text></g>
<g id="k2-F14"><rect x="980.7" y="1073" width="23" height="16.5" rx="2"/><text x="992.2" y="1085" textLength="15" lengthAdjust="spacingAndGlyphs">F14</text></g>
<g id="k2-F15"><rect x="1007.3" y="1073" width="23" height="16.5" rx="2"/><text x="1018.8" y="1085" textLength="15" lengthAdjust="spacingAndGlyphs">F15</text></g>
<g id="k2-F16"><rect x="1034.3" y="1073" width="22.7" height="16.5" rx="2"/><text x="1046" y="1085" textLength="15" lengthAdjust="spacingAndGlyphs">F16</text></g>
<g id="k2-E00"><rect x="593.3" y="1094.3" width="24.4" height="20.7" rx="2"/><text x="605.5" y="1108" textLength="15" lengthAdjust="spacingAndGlyphs">E00</text></g>
<g id="k2-E01"><rect x="623.3" y="1094.3" width="24.4" height="20.7" rx="2"/><text x="635.5" y="1108" textLength="15" lengthAdjust="spacingAndGlyphs">E01</text></g>
<g id="k2-E02"><rect x="653.3" y="1094.3" width="24.4" height="20.7" rx="2"/><text x="666.5" y="1108" textLength="15" lengthAdjust="spacingAndGlyphs">E02</text></g>
<g id="k2-E03"><rect x="683.3" y="1094.3" width="25" height="20.7" rx="2"/><text x="696" y="1108" textLength="15" lengthAdjust="spacingAndGlyphs">E03</text></g>
<g id="k2-E04"><rect x="713.3" y="1094.3" width="25" height="20.7" rx="2"/><text x="726.5" y="1108" textLength="15" lengthAdjust="spacingAndGlyphs">E04</text></g>
<g id="k2-E05"><rect x="743.3" y="1094.3" width="25" height="20.7" rx="2"/><text x="757" y="1108" textLength="15" lengthAdjust="spacingAndGlyphs">E05</text></g>
<g id="k2-E06"><rect x="773.7" y="1094.3" width="24.6" height="20.7" rx="2"/><text x="787" y="1108" textLength="15" lengthAdjust="spacingAndGlyphs">E06</text></g>
<g id="k2-E07"><rect x="803.7" y="1094.3" width="24.6" height="20.7" rx="2"/><text x="817.5" y="1108.5" textLength="15" lengthAdjust="spacingAndGlyphs">E07</text></g>
<g id="k2-E08"><rect x="833.7" y="1094.3" width="24.6" height="20.7" rx="2"/><text x="847.5" y="1108" textLength="15" lengthAdjust="spacingAndGlyphs">E08</text></g>
<g id="k2-E09"><rect x="863.7" y="1094.3" width="24.6" height="20.7" rx="2"/><text x="877" y="1108" textLength="15" lengthAdjust="spacingAndGlyphs">E09</text></g>
<g id="k2-E10"><rect x="893.7" y="1094.3" width="24.6" height="20.7" rx="2"/><text x="906" y="1108" textLength="15" lengthAdjust="spacingAndGlyphs">E10</text></g>
<g id="k2-E11"><rect x="923.7" y="1094.3" width="24.6" height="20.7" rx="2"/><text x="936.5" y="1108" textLength="15" lengthAdjust="spacingAndGlyphs">E11</text></g>
<g id="k2-E12"><rect x="953.7" y="1094.3" width="24.6" height="20.7" rx="2"/><text x="966" y="1108" textLength="15" lengthAdjust="spacingAndGlyphs">E12</text></g>
<g id="k2-E14"><rect x="983.7" y="1094.3" width="44" height="20.7" rx="2"/><text x="1006" y="1108" textLength="15" lengthAdjust="spacingAndGlyphs">E14</text></g>
<g id="k2-E15"><rect x="1034.3" y="1094.3" width="22.7" height="20.7" rx="2"/><text x="1046" y="1108" textLength="15" lengthAdjust="spacingAndGlyphs">E15</text></g>
<g id="k2-D00"><path class="o" d="M593.3 1120V1140.7H632.7V1120"/><text x="613.5" y="1133" textLength="15" lengthAdjust="spacingAndGlyphs">D00</text></g>
<g id="k2-D01"><path class="o" d="M638.3 1120V1140.7H662.7V1120"/><text x="650.5" y="1133" textLength="15" lengthAdjust="spacingAndGlyphs">D01</text></g>
<g id="k2-D02"><path class="o" d="M668.3 1120V1140.7H692.7V1120"/><text x="681" y="1133" textLength="15" lengthAdjust="spacingAndGlyphs">D02</text></g>
<g id="k2-D03"><path class="o" d="M698.3 1120V1140.7H722.7V1120"/><text x="712" y="1133" textLength="15" lengthAdjust="spacingAndGlyphs">D03</text></g>
<g id="k2-D04"><path class="o" d="M728.3 1120V1140.7H752.7V1120"/><text x="741.5" y="1133" textLength="15" lengthAdjust="spacingAndGlyphs">D04</text></g>
<g id="k2-D05"><path class="o" d="M758.3 1120V1140.7H782.7V1120"/><text x="771.5" y="1134" textLength="15" lengthAdjust="spacingAndGlyphs">D05</text></g>
<g id="k2-D06"><path class="o" d="M788.3 1120V1140.7H812.7V1120"/><text x="801.5" y="1133" textLength="15" lengthAdjust="spacingAndGlyphs">D06</text></g>
<g id="k2-D07"><path class="o" d="M818.3 1120V1140.7H842.7V1120"/><text x="831.5" y="1134" textLength="15" lengthAdjust="spacingAndGlyphs">D07</text></g>
<g id="k2-D08"><path class="o" d="M848.3 1120V1140.7H872.7V1120"/><text x="861" y="1133" textLength="15" lengthAdjust="spacingAndGlyphs">D08</text></g>
<g id="k2-D09"><path class="o" d="M878.3 1120V1140.7H902.7V1120"/><text x="892" y="1134" textLength="15" lengthAdjust="spacingAndGlyphs">D09</text></g>
<g id="k2-D10"><path class="o" d="M908.3 1120V1140.7H932.7V1120"/><text x="921" y="1134" textLength="15" lengthAdjust="spacingAndGlyphs">D10</text></g>
<g id="k2-D11"><path class="o" d="M938.3 1120V1140.7H962.7V1120"/><text x="951" y="1134" textLength="15" lengthAdjust="spacingAndGlyphs">D11</text></g>
<g id="k2-D12"><path class="o" d="M968.3 1120V1140.7H992.7V1120"/><text x="982" y="1134" textLength="15" lengthAdjust="spacingAndGlyphs">D12</text></g>
<g id="k2-C13"><path class="o" d="M998.3 1120V1140.7H1005.7V1166.7H1027.7V1120"/><text x="1017" y="1143.5" textLength="15" lengthAdjust="spacingAndGlyphs">C13</text></g>
<g id="k2-D15"><path class="o" d="M1034.3 1120V1140.7H1057V1120"/><text x="1046" y="1134" textLength="15" lengthAdjust="spacingAndGlyphs">D15</text></g>
<g id="k2-C00"><rect x="593.3" y="1146" width="47" height="20.7" rx="2"/><text x="619" y="1160" textLength="15" lengthAdjust="spacingAndGlyphs">C00</text></g>
<g id="k2-C01"><rect x="645.7" y="1146" width="24.6" height="20.7" rx="2"/><text x="657.5" y="1159" textLength="15" lengthAdjust="spacingAndGlyphs">C01</text></g>
<g id="k2-C02"><rect x="676" y="1146" width="24.7" height="20.7" rx="2"/><text x="688.5" y="1159" textLength="15" lengthAdjust="spacingAndGlyphs">C02</text></g>
<g id="k2-C03"><rect x="706" y="1146" width="24.7" height="20.7" rx="2"/><text x="719" y="1160" textLength="15" lengthAdjust="spacingAndGlyphs">C03</text></g>
<g id="k2-C04"><rect x="736" y="1146" width="24.3" height="20.7" rx="2"/><text x="749.5" y="1160" textLength="15" lengthAdjust="spacingAndGlyphs">C04</text></g>
<g id="k2-C05"><rect x="766" y="1146" width="24.3" height="20.7" rx="2"/><text x="778.5" y="1160" textLength="15" lengthAdjust="spacingAndGlyphs">C05</text></g>
<g id="k2-C06"><rect x="796" y="1146" width="24.3" height="20.7" rx="2"/><text x="809" y="1160" textLength="15" lengthAdjust="spacingAndGlyphs">C06</text></g>
<g id="k2-C07"><rect x="826" y="1146" width="24.3" height="20.7" rx="2"/><text x="839.5" y="1160" textLength="15" lengthAdjust="spacingAndGlyphs">C07</text></g>
<g id="k2-C08"><rect x="856" y="1146" width="24.3" height="20.7" rx="2"/><text x="868.5" y="1160" textLength="15" lengthAdjust="spacingAndGlyphs">C08</text></g>
<g id="k2-C09"><rect x="886" y="1146" width="24.3" height="20.7" rx="2"/><text x="898.5" y="1160" textLength="15" lengthAdjust="spacingAndGlyphs">C09</text></g>
<g id="k2-C10"><rect x="916" y="1146" width="24.3" height="20.7" rx="2"/><text x="928.5" y="1160" textLength="15" lengthAdjust="spacingAndGlyphs">C10</text></g>
<g id="k2-C11"><rect x="946" y="1146" width="24.3" height="20.7" rx="2"/><text x="959" y="1160" textLength="15" lengthAdjust="spacingAndGlyphs">C11</text></g>
<g id="k2-C12"><rect x="976" y="1146" width="24.3" height="20.7" rx="2"/><text x="989.5" y="1160" textLength="15" lengthAdjust="spacingAndGlyphs">C12</text></g>
<g id="k2-C15"><rect x="1034.3" y="1146" width="22.7" height="20.7" rx="2"/><text x="1045.5" y="1161" textLength="15" lengthAdjust="spacingAndGlyphs">C15</text></g>
<g id="k2-B00"><rect x="593.3" y="1172.3" width="31.4" height="21" rx="2"/><text x="609" y="1187" textLength="15" lengthAdjust="spacingAndGlyphs">B00</text></g>
<g id="k2-B00p"><rect x="630.7" y="1172.3" width="24.3" height="21" rx="2"/><text x="644.5" y="1187" textLength="16" lengthAdjust="spacingAndGlyphs">B00'</text></g>
<g id="k2-B01"><rect x="660.7" y="1172.3" width="24.3" height="21" rx="2"/><text x="674.5" y="1186.5" textLength="15" lengthAdjust="spacingAndGlyphs">B01</text></g>
<g id="k2-B02"><rect x="690.7" y="1172.3" width="24.3" height="21" rx="2"/><text x="704" y="1186.5" textLength="15" lengthAdjust="spacingAndGlyphs">B02</text></g>
<g id="k2-B03"><rect x="720.7" y="1172.3" width="24.6" height="21" rx="2"/><text x="734.5" y="1186" textLength="15" lengthAdjust="spacingAndGlyphs">B03</text></g>
<g id="k2-B04"><rect x="750.7" y="1172.3" width="24.6" height="21" rx="2"/><text x="764" y="1186" textLength="15" lengthAdjust="spacingAndGlyphs">B04</text></g>
<g id="k2-B05"><rect x="780.7" y="1172.3" width="24.6" height="21" rx="2"/><text x="795" y="1186.5" textLength="15" lengthAdjust="spacingAndGlyphs">B05</text></g>
<g id="k2-B06"><rect x="810.7" y="1172.3" width="24.6" height="21" rx="2"/><text x="825.5" y="1186.5" textLength="15" lengthAdjust="spacingAndGlyphs">B06</text></g>
<g id="k2-B07"><rect x="840.7" y="1172.3" width="24.6" height="21" rx="2"/><text x="854.5" y="1186.5" textLength="15" lengthAdjust="spacingAndGlyphs">B07</text></g>
<g id="k2-B08"><rect x="870.7" y="1172.3" width="24.6" height="21" rx="2"/><text x="885" y="1186" textLength="15" lengthAdjust="spacingAndGlyphs">B08</text></g>
<g id="k2-B09"><rect x="901" y="1172.3" width="24.3" height="21" rx="2"/><text x="913.5" y="1186" textLength="15" lengthAdjust="spacingAndGlyphs">B09</text></g>
<g id="k2-B10"><rect x="931" y="1172.3" width="24.3" height="21" rx="2"/><text x="945" y="1186" textLength="15" lengthAdjust="spacingAndGlyphs">B10</text></g>
<g id="k2-B12"><rect x="961" y="1172.3" width="66.7" height="21" rx="2"/><text x="995.5" y="1186" textLength="15" lengthAdjust="spacingAndGlyphs">B12</text></g>
<g id="k2-B15"><rect x="1034.3" y="1172.3" width="22.7" height="21" rx="2"/><text x="1046" y="1187" textLength="15" lengthAdjust="spacingAndGlyphs">B15</text></g>
<g id="k2-A00"><rect x="593.3" y="1199" width="39.4" height="20.7" rx="2"/><text x="616" y="1213" textLength="15" lengthAdjust="spacingAndGlyphs">A00</text></g>
<g id="k2-A01"><rect x="638.3" y="1199" width="24.4" height="20.7" rx="2"/><text x="652" y="1213" textLength="15" lengthAdjust="spacingAndGlyphs">A01</text></g>
<g id="k2-A02"><rect x="668.3" y="1199" width="24.4" height="20.7" rx="2"/><text x="681" y="1213.5" textLength="15" lengthAdjust="spacingAndGlyphs">A02</text></g>
<g id="k2-A03"><rect x="698" y="1199" width="32.3" height="20.7" rx="2"/><text x="717" y="1213.5" textLength="15" lengthAdjust="spacingAndGlyphs">A03</text></g>
<g id="k2-A05"><rect x="735.7" y="1199" width="142" height="20.7" rx="2"/><text x="811" y="1212" textLength="15" lengthAdjust="spacingAndGlyphs">A05</text></g>
<g id="k2-A08"><rect x="882.7" y="1199" width="25" height="20.7" rx="2"/><text x="896.5" y="1212.5" textLength="15" lengthAdjust="spacingAndGlyphs">A08</text></g>
<g id="k2-A09"><rect x="912.7" y="1199" width="25" height="20.7" rx="2"/><text x="926" y="1213" textLength="15" lengthAdjust="spacingAndGlyphs">A09</text></g>
<g id="k2-A10"><rect x="942.7" y="1199" width="25" height="20.7" rx="2"/><text x="956.5" y="1213" textLength="15" lengthAdjust="spacingAndGlyphs">A10</text></g>
<g id="k2-B13"><rect x="1002.7" y="1197.3" width="24.6" height="16.4" rx="2"/><text x="1015" y="1209" textLength="15" lengthAdjust="spacingAndGlyphs">B13</text></g>
<g id="k2-A11"><rect x="972.7" y="1214.3" width="24.6" height="16.7" rx="2"/><text x="986" y="1226" textLength="15" lengthAdjust="spacingAndGlyphs">A11</text></g>
<g id="k2-A12"><rect x="1002.7" y="1214.3" width="24.6" height="16.7" rx="2"/><text x="1016.5" y="1226" textLength="15" lengthAdjust="spacingAndGlyphs">A12</text></g>
<g id="k2-A13"><rect x="1032.3" y="1214.3" width="24.7" height="16.7" rx="2"/><text x="1044.5" y="1226" textLength="15" lengthAdjust="spacingAndGlyphs">A13</text></g>
<g id="k2-marks">
<path d="M744 1164H753M835 1164H843" stroke="#222" stroke-width="1.2"/>
<text class="e" x="636" y="1147.5">LED</text><circle class="o" cx="635" cy="1150.3" r="2.2" style="fill:none;stroke-width:1.4"/>
<text class="t" x="775.3" y="1229" style="font-size:6.5px">TPSW</text>
<circle class="o" cx="792.7" cy="1227.3" r="3.8" style="fill:none"/><path d="M787 1227.3H798.5M792.7 1221.5V1233" stroke="#222" stroke-width="1"/>
</g>
</g>
</svg>
